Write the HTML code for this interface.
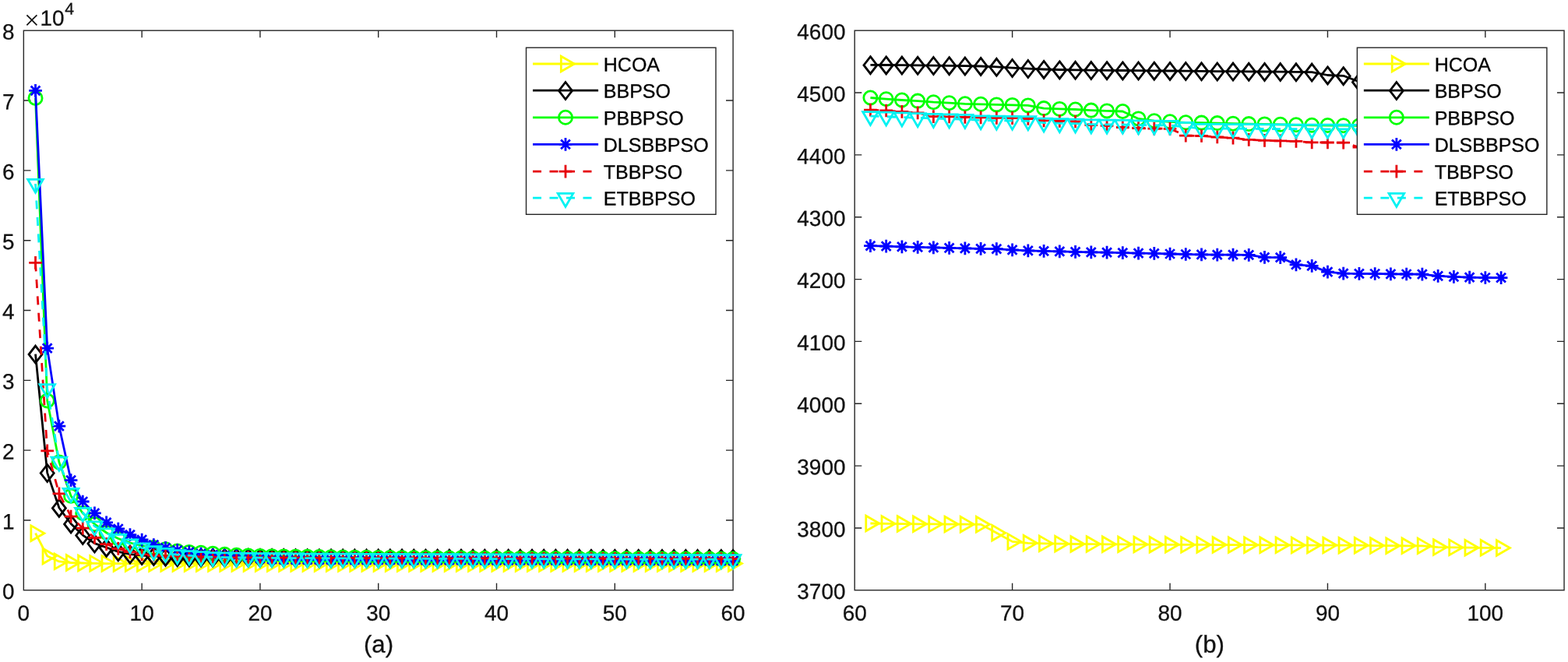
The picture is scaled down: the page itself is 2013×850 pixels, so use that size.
<!DOCTYPE html>
<html lang="en">
<head>
<meta charset="utf-8">
<title>Convergence curves of HCOA, BBPSO, PBBPSO, DLSBBPSO, TBBPSO and ETBBPSO</title>
<style>
html,body{margin:0;padding:0;background:#fff;}
body{width:2013px;height:850px;overflow:hidden;}
svg{display:block;}
text{font-family:'Liberation Sans', sans-serif;fill:#111111;stroke:#111111;stroke-width:0.3px;stroke-linejoin:round;}
.tk{font-size:27.9px;}
.tm{font-size:35px;font-family:'Liberation Serif', serif;stroke:none;}
.sup{font-size:21.4px;}
.lg{font-size:25.0px;fill:#000;stroke:#000;}
.lab{font-size:31.2px;}
.ax{fill:none;stroke:#262626;stroke-width:1.39;stroke-linecap:square;}
.tick{stroke-linecap:butt;}
rect.ax[fill]{fill:#fff;}
.s{fill:none;}
.ln{stroke-width:2.78;stroke-linejoin:round;stroke-linecap:butt;}
.mk{stroke-width:2.78;stroke-linejoin:miter;stroke-miterlimit:10;stroke-linecap:butt;}
</style>
</head>
<body>
<svg width="2013" height="850" viewBox="0 0 2013 850">
<defs>
<clipPath id="ca"><rect x="10.35" y="39.2" width="950.75" height="718.6"/></clipPath>
<clipPath id="cb"><rect x="1097.2" y="39.2" width="910.85" height="718.6"/></clipPath>
</defs>
<rect width="2013" height="850" fill="#fff"/>

<g id="panel-a">
<path class="ax tick" d="M182.14 757.8v-9.1M182.14 39.2v9.1M333.93 757.8v-9.1M333.93 39.2v9.1M485.73 757.8v-9.1M485.73 39.2v9.1M637.52 757.8v-9.1M637.52 39.2v9.1M789.31 757.8v-9.1M789.31 39.2v9.1M30.35 667.97h9.1M941.1 667.97h-9.1M30.35 578.15h9.1M941.1 578.15h-9.1M30.35 488.32h9.1M941.1 488.32h-9.1M30.35 398.5h9.1M941.1 398.5h-9.1M30.35 308.68h9.1M941.1 308.68h-9.1M30.35 218.85h9.1M941.1 218.85h-9.1M30.35 129.03h9.1M941.1 129.03h-9.1"/>
<rect class="ax" x="30.35" y="39.2" width="910.75" height="718.6"/>
<g class="xt">
<text class="tk" text-anchor="middle" transform="translate(30.35 796.7) rotate(0.05)">0</text>
<text class="tk" text-anchor="middle" transform="translate(182.14 796.7) rotate(0.05)">10</text>
<text class="tk" text-anchor="middle" transform="translate(333.93 796.7) rotate(0.05)">20</text>
<text class="tk" text-anchor="middle" transform="translate(485.73 796.7) rotate(0.05)">30</text>
<text class="tk" text-anchor="middle" transform="translate(637.52 796.7) rotate(0.05)">40</text>
<text class="tk" text-anchor="middle" transform="translate(789.31 796.7) rotate(0.05)">50</text>
<text class="tk" text-anchor="middle" transform="translate(941.1 796.7) rotate(0.05)">60</text>
</g>
<g class="yt">
<text class="tk" text-anchor="end" transform="translate(18.55 769.1) rotate(0.05)">0</text>
<text class="tk" text-anchor="end" transform="translate(18.55 679.27) rotate(0.05)">1</text>
<text class="tk" text-anchor="end" transform="translate(18.55 589.45) rotate(0.05)">2</text>
<text class="tk" text-anchor="end" transform="translate(18.55 499.62) rotate(0.05)">3</text>
<text class="tk" text-anchor="end" transform="translate(18.55 409.8) rotate(0.05)">4</text>
<text class="tk" text-anchor="end" transform="translate(18.55 319.98) rotate(0.05)">5</text>
<text class="tk" text-anchor="end" transform="translate(18.55 230.15) rotate(0.05)">6</text>
<text class="tk" text-anchor="end" transform="translate(18.55 140.33) rotate(0.05)">7</text>
<text class="tk" text-anchor="end" transform="translate(18.55 50.5) rotate(0.05)">8</text>
</g>
<text class="lab" text-anchor="middle" transform="translate(486.03 837.7) rotate(0.05)">(a)</text>
<text class="tk" transform="translate(31.1 32.7) rotate(0.05)"><tspan class="tm" dy="4.7">×</tspan><tspan dx="0.6" dy="-4.7">10</tspan><tspan class="sup" dx="0.7" dy="-14.3">4</tspan></text>
<g clip-path="url(#ca)">
<g stroke="#ffff00" class="s">
<polyline class="ln" points="45.53,684.7 60.71,714 75.89,720.9 91.07,722.5 106.25,723 121.43,723.4 136.6,723.6 151.78,723.6 166.96,723.6 182.14,723.6 197.32,723.6 212.5,723.6 227.68,723.6 242.86,723.6 258.04,723.6 273.22,723.6 288.4,723.6 303.58,723.6 318.75,723.6 333.93,723.6 349.11,723.6 364.29,723.6 379.47,723.6 394.65,723.6 409.83,723.6 425.01,723.6 440.19,723.6 455.37,723.6 470.55,723.6 485.73,723.6 500.9,723.6 516.08,723.6 531.26,723.6 546.44,723.6 561.62,723.6 576.8,723.6 591.98,723.6 607.16,723.6 622.34,723.6 637.52,723.6 652.7,723.6 667.88,723.6 683.05,723.6 698.23,723.6 713.41,723.6 728.59,723.6 743.77,723.6 758.95,723.6 774.13,723.6 789.31,723.6 804.49,723.6 819.67,723.6 834.85,723.6 850.03,723.6 865.2,723.6 880.38,723.6 895.56,723.6 910.74,723.6 925.92,723.6 941.1,723.6"/>
<g class="mk"><path d="M39.86 674.89L56.86 684.7L39.86 694.51Z"/><path d="M55.04 704.19L72.04 714L55.04 723.81Z"/><path d="M70.22 711.09L87.22 720.9L70.22 730.71Z"/><path d="M85.4 712.69L102.4 722.5L85.4 732.31Z"/><path d="M100.58 713.19L117.58 723L100.58 732.81Z"/><path d="M115.76 713.59L132.76 723.4L115.76 733.21Z"/><path d="M130.94 713.79L147.94 723.6L130.94 733.41Z"/><path d="M146.12 713.79L163.12 723.6L146.12 733.41Z"/><path d="M161.3 713.79L178.3 723.6L161.3 733.41Z"/><path d="M176.48 713.79L193.48 723.6L176.48 733.41Z"/><path d="M191.65 713.79L208.65 723.6L191.65 733.41Z"/><path d="M206.83 713.79L223.83 723.6L206.83 733.41Z"/><path d="M222.01 713.79L239.01 723.6L222.01 733.41Z"/><path d="M237.19 713.79L254.19 723.6L237.19 733.41Z"/><path d="M252.37 713.79L269.37 723.6L252.37 733.41Z"/><path d="M267.55 713.79L284.55 723.6L267.55 733.41Z"/><path d="M282.73 713.79L299.73 723.6L282.73 733.41Z"/><path d="M297.91 713.79L314.91 723.6L297.91 733.41Z"/><path d="M313.09 713.79L330.09 723.6L313.09 733.41Z"/><path d="M328.27 713.79L345.27 723.6L328.27 733.41Z"/><path d="M343.45 713.79L360.45 723.6L343.45 733.41Z"/><path d="M358.62 713.79L375.62 723.6L358.62 733.41Z"/><path d="M373.8 713.79L390.8 723.6L373.8 733.41Z"/><path d="M388.98 713.79L405.98 723.6L388.98 733.41Z"/><path d="M404.16 713.79L421.16 723.6L404.16 733.41Z"/><path d="M419.34 713.79L436.34 723.6L419.34 733.41Z"/><path d="M434.52 713.79L451.52 723.6L434.52 733.41Z"/><path d="M449.7 713.79L466.7 723.6L449.7 733.41Z"/><path d="M464.88 713.79L481.88 723.6L464.88 733.41Z"/><path d="M480.06 713.79L497.06 723.6L480.06 733.41Z"/><path d="M495.24 713.79L512.24 723.6L495.24 733.41Z"/><path d="M510.42 713.79L527.42 723.6L510.42 733.41Z"/><path d="M525.6 713.79L542.6 723.6L525.6 733.41Z"/><path d="M540.78 713.79L557.78 723.6L540.78 733.41Z"/><path d="M555.95 713.79L572.95 723.6L555.95 733.41Z"/><path d="M571.13 713.79L588.13 723.6L571.13 733.41Z"/><path d="M586.31 713.79L603.31 723.6L586.31 733.41Z"/><path d="M601.49 713.79L618.49 723.6L601.49 733.41Z"/><path d="M616.67 713.79L633.67 723.6L616.67 733.41Z"/><path d="M631.85 713.79L648.85 723.6L631.85 733.41Z"/><path d="M647.03 713.79L664.03 723.6L647.03 733.41Z"/><path d="M662.21 713.79L679.21 723.6L662.21 733.41Z"/><path d="M677.39 713.79L694.39 723.6L677.39 733.41Z"/><path d="M692.57 713.79L709.57 723.6L692.57 733.41Z"/><path d="M707.75 713.79L724.75 723.6L707.75 733.41Z"/><path d="M722.93 713.79L739.93 723.6L722.93 733.41Z"/><path d="M738.1 713.79L755.1 723.6L738.1 733.41Z"/><path d="M753.28 713.79L770.28 723.6L753.28 733.41Z"/><path d="M768.46 713.79L785.46 723.6L768.46 733.41Z"/><path d="M783.64 713.79L800.64 723.6L783.64 733.41Z"/><path d="M798.82 713.79L815.82 723.6L798.82 733.41Z"/><path d="M814 713.79L831 723.6L814 733.41Z"/><path d="M829.18 713.79L846.18 723.6L829.18 733.41Z"/><path d="M844.36 713.79L861.36 723.6L844.36 733.41Z"/><path d="M859.54 713.79L876.54 723.6L859.54 733.41Z"/><path d="M874.72 713.79L891.72 723.6L874.72 733.41Z"/><path d="M889.9 713.79L906.9 723.6L889.9 733.41Z"/><path d="M905.08 713.79L922.08 723.6L905.08 733.41Z"/><path d="M920.25 713.79L937.25 723.6L920.25 733.41Z"/><path d="M935.43 713.79L952.43 723.6L935.43 733.41Z"/></g>
</g>
<g stroke="#000000" class="s">
<polyline class="ln" points="45.53,454.7 60.71,607.1 75.89,652 91.07,672.5 106.25,687.1 121.43,697.6 136.6,703 151.78,708.4 166.96,711.6 182.14,713.2 197.32,714 212.5,714.8 227.68,715.3 242.86,715.5 258.04,715.7 273.22,715.8 288.4,715.85 303.58,715.9 318.75,715.95 333.93,716 349.11,716.1 364.29,716.2 379.47,716.3 394.65,716.4 409.83,716.5 425.01,716.54 440.19,716.58 455.37,716.62 470.55,716.66 485.73,716.7 500.9,716.72 516.08,716.73 531.26,716.75 546.44,716.77 561.62,716.78 576.8,716.8 591.98,716.82 607.16,716.83 622.34,716.85 637.52,716.87 652.7,716.88 667.88,716.9 683.05,716.92 698.23,716.93 713.41,716.95 728.59,716.97 743.77,716.98 758.95,717 774.13,717.02 789.31,717.03 804.49,717.05 819.67,717.07 834.85,717.08 850.03,717.1 865.2,717.12 880.38,717.13 895.56,717.15 910.74,717.17 925.92,717.18 941.1,717.2"/>
<g class="mk"><path d="M45.53 444.1L54.03 455.1L45.53 466.1L37.03 455.1Z"/><path d="M60.71 596.5L69.21 607.5L60.71 618.5L52.21 607.5Z"/><path d="M75.89 641.4L84.39 652.4L75.89 663.4L67.39 652.4Z"/><path d="M91.07 661.9L99.57 672.9L91.07 683.9L82.57 672.9Z"/><path d="M106.25 676.5L114.75 687.5L106.25 698.5L97.75 687.5Z"/><path d="M121.43 687L129.93 698L121.43 709L112.93 698Z"/><path d="M136.6 692.4L145.1 703.4L136.6 714.4L128.1 703.4Z"/><path d="M151.78 697.8L160.28 708.8L151.78 719.8L143.28 708.8Z"/><path d="M166.96 701L175.46 712L166.96 723L158.46 712Z"/><path d="M182.14 702.6L190.64 713.6L182.14 724.6L173.64 713.6Z"/><path d="M197.32 703.4L205.82 714.4L197.32 725.4L188.82 714.4Z"/><path d="M212.5 704.2L221 715.2L212.5 726.2L204 715.2Z"/><path d="M227.68 704.7L236.18 715.7L227.68 726.7L219.18 715.7Z"/><path d="M242.86 704.9L251.36 715.9L242.86 726.9L234.36 715.9Z"/><path d="M258.04 705.1L266.54 716.1L258.04 727.1L249.54 716.1Z"/><path d="M273.22 705.2L281.72 716.2L273.22 727.2L264.72 716.2Z"/><path d="M288.4 705.25L296.9 716.25L288.4 727.25L279.9 716.25Z"/><path d="M303.58 705.3L312.08 716.3L303.58 727.3L295.08 716.3Z"/><path d="M318.75 705.35L327.25 716.35L318.75 727.35L310.25 716.35Z"/><path d="M333.93 705.4L342.43 716.4L333.93 727.4L325.43 716.4Z"/><path d="M349.11 705.5L357.61 716.5L349.11 727.5L340.61 716.5Z"/><path d="M364.29 705.6L372.79 716.6L364.29 727.6L355.79 716.6Z"/><path d="M379.47 705.7L387.97 716.7L379.47 727.7L370.97 716.7Z"/><path d="M394.65 705.8L403.15 716.8L394.65 727.8L386.15 716.8Z"/><path d="M409.83 705.9L418.33 716.9L409.83 727.9L401.33 716.9Z"/><path d="M425.01 705.94L433.51 716.94L425.01 727.94L416.51 716.94Z"/><path d="M440.19 705.98L448.69 716.98L440.19 727.98L431.69 716.98Z"/><path d="M455.37 706.02L463.87 717.02L455.37 728.02L446.87 717.02Z"/><path d="M470.55 706.06L479.05 717.06L470.55 728.06L462.05 717.06Z"/><path d="M485.73 706.1L494.23 717.1L485.73 728.1L477.23 717.1Z"/><path d="M500.9 706.12L509.4 717.12L500.9 728.12L492.4 717.12Z"/><path d="M516.08 706.13L524.58 717.13L516.08 728.13L507.58 717.13Z"/><path d="M531.26 706.15L539.76 717.15L531.26 728.15L522.76 717.15Z"/><path d="M546.44 706.17L554.94 717.17L546.44 728.17L537.94 717.17Z"/><path d="M561.62 706.18L570.12 717.18L561.62 728.18L553.12 717.18Z"/><path d="M576.8 706.2L585.3 717.2L576.8 728.2L568.3 717.2Z"/><path d="M591.98 706.22L600.48 717.22L591.98 728.22L583.48 717.22Z"/><path d="M607.16 706.23L615.66 717.23L607.16 728.23L598.66 717.23Z"/><path d="M622.34 706.25L630.84 717.25L622.34 728.25L613.84 717.25Z"/><path d="M637.52 706.27L646.02 717.27L637.52 728.27L629.02 717.27Z"/><path d="M652.7 706.28L661.2 717.28L652.7 728.28L644.2 717.28Z"/><path d="M667.88 706.3L676.38 717.3L667.88 728.3L659.38 717.3Z"/><path d="M683.05 706.32L691.55 717.32L683.05 728.32L674.55 717.32Z"/><path d="M698.23 706.33L706.73 717.33L698.23 728.33L689.73 717.33Z"/><path d="M713.41 706.35L721.91 717.35L713.41 728.35L704.91 717.35Z"/><path d="M728.59 706.37L737.09 717.37L728.59 728.37L720.09 717.37Z"/><path d="M743.77 706.38L752.27 717.38L743.77 728.38L735.27 717.38Z"/><path d="M758.95 706.4L767.45 717.4L758.95 728.4L750.45 717.4Z"/><path d="M774.13 706.42L782.63 717.42L774.13 728.42L765.63 717.42Z"/><path d="M789.31 706.43L797.81 717.43L789.31 728.43L780.81 717.43Z"/><path d="M804.49 706.45L812.99 717.45L804.49 728.45L795.99 717.45Z"/><path d="M819.67 706.47L828.17 717.47L819.67 728.47L811.17 717.47Z"/><path d="M834.85 706.48L843.35 717.48L834.85 728.48L826.35 717.48Z"/><path d="M850.03 706.5L858.53 717.5L850.03 728.5L841.53 717.5Z"/><path d="M865.2 706.52L873.7 717.52L865.2 728.52L856.7 717.52Z"/><path d="M880.38 706.53L888.88 717.53L880.38 728.53L871.88 717.53Z"/><path d="M895.56 706.55L904.06 717.55L895.56 728.55L887.06 717.55Z"/><path d="M910.74 706.57L919.24 717.57L910.74 728.57L902.24 717.57Z"/><path d="M925.92 706.58L934.42 717.58L925.92 728.58L917.42 717.58Z"/><path d="M941.1 706.6L949.6 717.6L941.1 728.6L932.6 717.6Z"/></g>
</g>
<g stroke="#00ff00" class="s">
<polyline class="ln" points="45.53,126 60.71,514.5 75.89,593.4 91.07,636.8 106.25,659 121.43,673 136.6,684 151.78,691.5 166.96,697 182.14,700.5 197.32,703 212.5,705.2 227.68,707.5 242.86,708.9 258.04,709.8 273.22,710.7 288.4,711.8 303.58,712.8 318.75,713.4 333.93,713.9 349.11,714.14 364.29,714.38 379.47,714.62 394.65,714.86 409.83,715.1 425.01,715.28 440.19,715.46 455.37,715.64 470.55,715.82 485.73,716 500.9,716.08 516.08,716.16 531.26,716.24 546.44,716.32 561.62,716.4 576.8,716.48 591.98,716.56 607.16,716.64 622.34,716.72 637.52,716.8 652.7,716.84 667.88,716.89 683.05,716.93 698.23,716.98 713.41,717.02 728.59,717.07 743.77,717.12 758.95,717.16 774.13,717.21 789.31,717.25 804.49,717.29 819.67,717.34 834.85,717.38 850.03,717.43 865.2,717.48 880.38,717.52 895.56,717.57 910.74,717.61 925.92,717.66 941.1,717.7"/>
<g class="mk"><circle cx="45.53" cy="126" r="8.6"/><circle cx="60.71" cy="514.5" r="8.6"/><circle cx="75.89" cy="593.4" r="8.6"/><circle cx="91.07" cy="636.8" r="8.6"/><circle cx="106.25" cy="659" r="8.6"/><circle cx="121.43" cy="673" r="8.6"/><circle cx="136.6" cy="684" r="8.6"/><circle cx="151.78" cy="691.5" r="8.6"/><circle cx="166.96" cy="697" r="8.6"/><circle cx="182.14" cy="700.5" r="8.6"/><circle cx="197.32" cy="703" r="8.6"/><circle cx="212.5" cy="705.2" r="8.6"/><circle cx="227.68" cy="707.5" r="8.6"/><circle cx="242.86" cy="708.9" r="8.6"/><circle cx="258.04" cy="709.8" r="8.6"/><circle cx="273.22" cy="710.7" r="8.6"/><circle cx="288.4" cy="711.8" r="8.6"/><circle cx="303.58" cy="712.8" r="8.6"/><circle cx="318.75" cy="713.4" r="8.6"/><circle cx="333.93" cy="713.9" r="8.6"/><circle cx="349.11" cy="714.14" r="8.6"/><circle cx="364.29" cy="714.38" r="8.6"/><circle cx="379.47" cy="714.62" r="8.6"/><circle cx="394.65" cy="714.86" r="8.6"/><circle cx="409.83" cy="715.1" r="8.6"/><circle cx="425.01" cy="715.28" r="8.6"/><circle cx="440.19" cy="715.46" r="8.6"/><circle cx="455.37" cy="715.64" r="8.6"/><circle cx="470.55" cy="715.82" r="8.6"/><circle cx="485.73" cy="716" r="8.6"/><circle cx="500.9" cy="716.08" r="8.6"/><circle cx="516.08" cy="716.16" r="8.6"/><circle cx="531.26" cy="716.24" r="8.6"/><circle cx="546.44" cy="716.32" r="8.6"/><circle cx="561.62" cy="716.4" r="8.6"/><circle cx="576.8" cy="716.48" r="8.6"/><circle cx="591.98" cy="716.56" r="8.6"/><circle cx="607.16" cy="716.64" r="8.6"/><circle cx="622.34" cy="716.72" r="8.6"/><circle cx="637.52" cy="716.8" r="8.6"/><circle cx="652.7" cy="716.84" r="8.6"/><circle cx="667.88" cy="716.89" r="8.6"/><circle cx="683.05" cy="716.93" r="8.6"/><circle cx="698.23" cy="716.98" r="8.6"/><circle cx="713.41" cy="717.02" r="8.6"/><circle cx="728.59" cy="717.07" r="8.6"/><circle cx="743.77" cy="717.12" r="8.6"/><circle cx="758.95" cy="717.16" r="8.6"/><circle cx="774.13" cy="717.21" r="8.6"/><circle cx="789.31" cy="717.25" r="8.6"/><circle cx="804.49" cy="717.29" r="8.6"/><circle cx="819.67" cy="717.34" r="8.6"/><circle cx="834.85" cy="717.38" r="8.6"/><circle cx="850.03" cy="717.43" r="8.6"/><circle cx="865.2" cy="717.48" r="8.6"/><circle cx="880.38" cy="717.52" r="8.6"/><circle cx="895.56" cy="717.57" r="8.6"/><circle cx="910.74" cy="717.61" r="8.6"/><circle cx="925.92" cy="717.66" r="8.6"/><circle cx="941.1" cy="717.7" r="8.6"/></g>
</g>
<g stroke="#0000ff" class="s">
<polyline class="ln" points="45.53,116.3 60.71,447.2 75.89,547.1 91.07,616.6 106.25,644 121.43,658.9 136.6,670.9 151.78,679 166.96,686.6 182.14,693 197.32,699.5 212.5,703.4 227.68,706.5 242.86,708.9 258.04,711.2 273.22,712.6 288.4,713.4 303.58,714.2 318.75,715.5 333.93,717 349.11,718 364.29,718.5 379.47,718.55 394.65,718.6 409.83,718.65 425.01,718.7 440.19,718.75 455.37,718.8 470.55,718.85 485.73,718.9 500.9,718.94 516.08,718.97 531.26,719.01 546.44,719.05 561.62,719.08 576.8,719.12 591.98,719.16 607.16,719.19 622.34,719.23 637.52,719.27 652.7,719.3 667.88,719.34 683.05,719.38 698.23,719.41 713.41,719.45 728.59,719.49 743.77,719.52 758.95,719.56 774.13,719.6 789.31,719.63 804.49,719.67 819.67,719.71 834.85,719.74 850.03,719.78 865.2,719.82 880.38,719.85 895.56,719.89 910.74,719.93 925.92,719.96 941.1,720"/>
<g class="mk"><path d="M37.19 116.3H53.86M45.53 107.97V124.63M39.64 110.41L51.42 122.19M39.64 122.19L51.42 110.41"/><path d="M52.37 447.2H69.04M60.71 438.87V455.53M54.81 441.31L66.6 453.09M54.81 453.09L66.6 441.31"/><path d="M67.55 547.1H84.22M75.89 538.76V555.44M69.99 541.21L81.78 552.99M69.99 552.99L81.78 541.21"/><path d="M82.73 616.6H99.4M91.07 608.26V624.94M85.17 610.71L96.96 622.49M85.17 622.49L96.96 610.71"/><path d="M97.91 644H114.58M106.25 635.66V652.34M100.35 638.11L112.14 649.89M100.35 649.89L112.14 638.11"/><path d="M113.09 658.9H129.76M121.43 650.56V667.24M115.53 653.01L127.32 664.79M115.53 664.79L127.32 653.01"/><path d="M128.27 670.9H144.94M136.6 662.56V679.24M130.71 665.01L142.5 676.79M130.71 676.79L142.5 665.01"/><path d="M143.45 679H160.12M151.78 670.66V687.34M145.89 673.11L157.68 684.89M145.89 684.89L157.68 673.11"/><path d="M158.63 686.6H175.3M166.96 678.26V694.94M161.07 680.71L172.86 692.49M161.07 692.49L172.86 680.71"/><path d="M173.81 693H190.48M182.14 684.66V701.34M176.25 687.11L188.04 698.89M176.25 698.89L188.04 687.11"/><path d="M188.99 699.5H205.66M197.32 691.16V707.84M191.43 693.61L203.21 705.39M191.43 705.39L203.21 693.61"/><path d="M204.16 703.4H220.84M212.5 695.06V711.74M206.61 697.51L218.39 709.29M206.61 709.29L218.39 697.51"/><path d="M219.34 706.5H236.01M227.68 698.16V714.84M221.79 700.61L233.57 712.39M221.79 712.39L233.57 700.61"/><path d="M234.52 708.9H251.19M242.86 700.56V717.24M236.96 703.01L248.75 714.79M236.96 714.79L248.75 703.01"/><path d="M249.7 711.2H266.37M258.04 702.87V719.54M252.14 705.31L263.93 717.09M252.14 717.09L263.93 705.31"/><path d="M264.88 712.6H281.55M273.22 704.26V720.94M267.32 706.71L279.11 718.49M267.32 718.49L279.11 706.71"/><path d="M280.06 713.4H296.73M288.4 705.06V721.74M282.5 707.51L294.29 719.29M282.5 719.29L294.29 707.51"/><path d="M295.24 714.2H311.91M303.58 705.87V722.54M297.68 708.31L309.47 720.09M297.68 720.09L309.47 708.31"/><path d="M310.42 715.5H327.09M318.75 707.16V723.84M312.86 709.61L324.65 721.39M312.86 721.39L324.65 709.61"/><path d="M325.6 717H342.27M333.93 708.66V725.34M328.04 711.11L339.83 722.89M328.04 722.89L339.83 711.11"/><path d="M340.78 718H357.45M349.11 709.66V726.34M343.22 712.11L355.01 723.89M343.22 723.89L355.01 712.11"/><path d="M355.96 718.5H372.63M364.29 710.16V726.84M358.4 712.61L370.19 724.39M358.4 724.39L370.19 712.61"/><path d="M371.14 718.55H387.81M379.47 710.21V726.88M373.58 712.66L385.36 724.44M373.58 724.44L385.36 712.66"/><path d="M386.32 718.6H402.99M394.65 710.26V726.94M388.76 712.71L400.54 724.49M388.76 724.49L400.54 712.71"/><path d="M401.49 718.65H418.16M409.83 710.31V726.99M403.94 712.76L415.72 724.54M403.94 724.54L415.72 712.76"/><path d="M416.67 718.7H433.34M425.01 710.37V727.04M419.11 712.81L430.9 724.59M419.11 724.59L430.9 712.81"/><path d="M431.85 718.75H448.52M440.19 710.41V727.09M434.29 712.86L446.08 724.64M434.29 724.64L446.08 712.86"/><path d="M447.03 718.8H463.7M455.37 710.46V727.13M449.47 712.91L461.26 724.69M449.47 724.69L461.26 712.91"/><path d="M462.21 718.85H478.88M470.55 710.51V727.19M464.65 712.96L476.44 724.74M464.65 724.74L476.44 712.96"/><path d="M477.39 718.9H494.06M485.73 710.56V727.24M479.83 713.01L491.62 724.79M479.83 724.79L491.62 713.01"/><path d="M492.57 718.94H509.24M500.9 710.6V727.27M495.01 713.04L506.8 724.83M495.01 724.83L506.8 713.04"/><path d="M507.75 718.97H524.42M516.08 710.64V727.31M510.19 713.08L521.98 724.87M510.19 724.87L521.98 713.08"/><path d="M522.93 719.01H539.6M531.26 710.67V727.35M525.37 713.12L537.16 724.9M525.37 724.9L537.16 713.12"/><path d="M538.11 719.05H554.78M546.44 710.71V727.38M540.55 713.15L552.34 724.94M540.55 724.94L552.34 713.15"/><path d="M553.29 719.08H569.96M561.62 710.75V727.42M555.73 713.19L567.51 724.98M555.73 724.98L567.51 713.19"/><path d="M568.47 719.12H585.14M576.8 710.78V727.46M570.91 713.23L582.69 725.01M570.91 725.01L582.69 713.23"/><path d="M583.64 719.16H600.31M591.98 710.82V727.49M586.09 713.26L597.87 725.05M586.09 725.05L597.87 713.26"/><path d="M598.82 719.19H615.49M607.16 710.86V727.53M601.26 713.3L613.05 725.09M601.26 725.09L613.05 713.3"/><path d="M614 719.23H630.67M622.34 710.89V727.57M616.44 713.34L628.23 725.12M616.44 725.12L628.23 713.34"/><path d="M629.18 719.27H645.85M637.52 710.93V727.6M631.62 713.37L643.41 725.16M631.62 725.16L643.41 713.37"/><path d="M644.36 719.3H661.03M652.7 710.97V727.64M646.8 713.41L658.59 725.2M646.8 725.2L658.59 713.41"/><path d="M659.54 719.34H676.21M667.88 711V727.68M661.98 713.45L673.77 725.23M661.98 725.23L673.77 713.45"/><path d="M674.72 719.38H691.39M683.05 711.04V727.71M677.16 713.48L688.95 725.27M677.16 725.27L688.95 713.48"/><path d="M689.9 719.41H706.57M698.23 711.08V727.75M692.34 713.52L704.13 725.31M692.34 725.31L704.13 713.52"/><path d="M705.08 719.45H721.75M713.41 711.12V727.79M707.52 713.56L719.31 725.34M707.52 725.34L719.31 713.56"/><path d="M720.26 719.49H736.93M728.59 711.15V727.82M722.7 713.59L734.49 725.38M722.7 725.38L734.49 713.59"/><path d="M735.44 719.52H752.11M743.77 711.19V727.86M737.88 713.63L749.66 725.42M737.88 725.42L749.66 713.63"/><path d="M750.62 719.56H767.29M758.95 711.22V727.89M753.06 713.67L764.84 725.45M753.06 725.45L764.84 713.67"/><path d="M765.79 719.6H782.46M774.13 711.26V727.93M768.24 713.7L780.02 725.49M768.24 725.49L780.02 713.7"/><path d="M780.97 719.63H797.64M789.31 711.3V727.97M783.41 713.74L795.2 725.53M783.41 725.53L795.2 713.74"/><path d="M796.15 719.67H812.82M804.49 711.33V728M798.59 713.78L810.38 725.56M798.59 725.56L810.38 713.78"/><path d="M811.33 719.71H828M819.67 711.37V728.04M813.77 713.81L825.56 725.6M813.77 725.6L825.56 713.81"/><path d="M826.51 719.74H843.18M834.85 711.41V728.08M828.95 713.85L840.74 725.64M828.95 725.64L840.74 713.85"/><path d="M841.69 719.78H858.36M850.03 711.44V728.12M844.13 713.89L855.92 725.67M844.13 725.67L855.92 713.89"/><path d="M856.87 719.82H873.54M865.2 711.48V728.15M859.31 713.92L871.1 725.71M859.31 725.71L871.1 713.92"/><path d="M872.05 719.85H888.72M880.38 711.52V728.19M874.49 713.96L886.28 725.75M874.49 725.75L886.28 713.96"/><path d="M887.23 719.89H903.9M895.56 711.55V728.23M889.67 714L901.46 725.78M889.67 725.78L901.46 714"/><path d="M902.41 719.93H919.08M910.74 711.59V728.26M904.85 714.03L916.64 725.82M904.85 725.82L916.64 714.03"/><path d="M917.59 719.96H934.26M925.92 711.63V728.3M920.03 714.07L931.81 725.86M920.03 725.86L931.81 714.07"/><path d="M932.76 720H949.44M941.1 711.66V728.34M935.21 714.11L946.99 725.89M935.21 725.89L946.99 714.11"/></g>
</g>
<g stroke="#e6000a" class="s">
<polyline class="ln" points="45.53,337.4 60.71,578.8 75.89,633.8 91.07,663.1 106.25,678.2 121.43,690.3 136.6,698.7 151.78,704.5 166.96,708.6 182.14,711.9 197.32,713 212.5,713.8 227.68,714 242.86,714.6 258.04,715 273.22,715.2 288.4,715.6 303.58,715.8 318.75,715.8 333.93,716.1 349.11,716.14 364.29,716.18 379.47,716.22 394.65,716.26 409.83,716.3 425.01,716.36 440.19,716.42 455.37,716.48 470.55,716.54 485.73,716.6 500.9,716.63 516.08,716.67 531.26,716.7 546.44,716.73 561.62,716.77 576.8,716.8 591.98,716.83 607.16,716.87 622.34,716.9 637.52,716.93 652.7,716.97 667.88,717 683.05,717.03 698.23,717.07 713.41,717.1 728.59,717.13 743.77,717.17 758.95,717.2 774.13,717.23 789.31,717.27 804.49,717.3 819.67,717.33 834.85,717.37 850.03,717.4 865.2,717.43 880.38,717.47 895.56,717.5 910.74,717.53 925.92,717.57 941.1,717.6" stroke-dasharray="11 10.5"/>
<g class="mk"><path d="M37.19 337.4H53.86M45.53 329.06V345.73"/><path d="M52.37 578.8H69.04M60.71 570.46V587.13"/><path d="M67.55 633.8H84.22M75.89 625.46V642.13"/><path d="M82.73 663.1H99.4M91.07 654.76V671.44"/><path d="M97.91 678.2H114.58M106.25 669.87V686.54"/><path d="M113.09 690.3H129.76M121.43 681.96V698.63"/><path d="M128.27 698.7H144.94M136.6 690.37V707.04"/><path d="M143.45 704.5H160.12M151.78 696.16V712.84"/><path d="M158.63 708.6H175.3M166.96 700.26V716.94"/><path d="M173.81 711.9H190.48M182.14 703.56V720.24"/><path d="M188.99 713H205.66M197.32 704.66V721.34"/><path d="M204.16 713.8H220.84M212.5 705.46V722.13"/><path d="M219.34 714H236.01M227.68 705.66V722.34"/><path d="M234.52 714.6H251.19M242.86 706.26V722.94"/><path d="M249.7 715H266.37M258.04 706.66V723.34"/><path d="M264.88 715.2H281.55M273.22 706.87V723.54"/><path d="M280.06 715.6H296.73M288.4 707.26V723.94"/><path d="M295.24 715.8H311.91M303.58 707.46V724.13"/><path d="M310.42 715.8H327.09M318.75 707.46V724.13"/><path d="M325.6 716.1H342.27M333.93 707.76V724.44"/><path d="M340.78 716.14H357.45M349.11 707.8V724.48"/><path d="M355.96 716.18H372.63M364.29 707.84V724.51"/><path d="M371.14 716.22H387.81M379.47 707.88V724.56"/><path d="M386.32 716.26H402.99M394.65 707.92V724.6"/><path d="M401.49 716.3H418.16M409.83 707.96V724.63"/><path d="M416.67 716.36H433.34M425.01 708.02V724.7"/><path d="M431.85 716.42H448.52M440.19 708.08V724.75"/><path d="M447.03 716.48H463.7M455.37 708.14V724.82"/><path d="M462.21 716.54H478.88M470.55 708.2V724.88"/><path d="M477.39 716.6H494.06M485.73 708.26V724.94"/><path d="M492.57 716.63H509.24M500.9 708.3V724.97"/><path d="M507.75 716.67H524.42M516.08 708.33V725"/><path d="M522.93 716.7H539.6M531.26 708.37V725.04"/><path d="M538.11 716.73H554.78M546.44 708.4V725.07"/><path d="M553.29 716.77H569.96M561.62 708.43V725.1"/><path d="M568.47 716.8H585.14M576.8 708.47V725.14"/><path d="M583.64 716.83H600.31M591.98 708.5V725.17"/><path d="M598.82 716.87H615.49M607.16 708.53V725.2"/><path d="M614 716.9H630.67M622.34 708.56V725.24"/><path d="M629.18 716.93H645.85M637.52 708.6V725.27"/><path d="M644.36 716.97H661.03M652.7 708.63V725.3"/><path d="M659.54 717H676.21M667.88 708.66V725.34"/><path d="M674.72 717.03H691.39M683.05 708.7V725.37"/><path d="M689.9 717.07H706.57M698.23 708.73V725.4"/><path d="M705.08 717.1H721.75M713.41 708.76V725.44"/><path d="M720.26 717.13H736.93M728.59 708.8V725.47"/><path d="M735.44 717.17H752.11M743.77 708.83V725.5"/><path d="M750.62 717.2H767.29M758.95 708.87V725.54"/><path d="M765.79 717.23H782.46M774.13 708.9V725.57"/><path d="M780.97 717.27H797.64M789.31 708.93V725.6"/><path d="M796.15 717.3H812.82M804.49 708.97V725.64"/><path d="M811.33 717.33H828M819.67 709V725.67"/><path d="M826.51 717.37H843.18M834.85 709.03V725.7"/><path d="M841.69 717.4H858.36M850.03 709.06V725.74"/><path d="M856.87 717.43H873.54M865.2 709.1V725.77"/><path d="M872.05 717.47H888.72M880.38 709.13V725.8"/><path d="M887.23 717.5H903.9M895.56 709.16V725.84"/><path d="M902.41 717.53H919.08M910.74 709.2V725.87"/><path d="M917.59 717.57H934.26M925.92 709.23V725.9"/><path d="M932.76 717.6H949.44M941.1 709.26V725.94"/></g>
</g>
<g stroke="#00f2f2" class="s">
<polyline class="ln" points="45.53,236 60.71,499.2 75.89,592.9 91.07,633.1 106.25,658 121.43,675.6 136.6,684.5 151.78,692 166.96,698.5 182.14,703.5 197.32,707.3 212.5,710 227.68,712.3 242.86,713.3 258.04,714.4 273.22,715.3 288.4,715.6 303.58,715.9 318.75,716 333.93,716.2 349.11,716.4 364.29,716.6 379.47,716.65 394.65,716.7 409.83,716.75 425.01,716.8 440.19,716.85 455.37,716.9 470.55,716.96 485.73,717.02 500.9,717.08 516.08,717.13 531.26,717.19 546.44,717.25 561.62,717.31 576.8,717.37 591.98,717.42 607.16,717.48 622.34,717.54 637.52,717.6 652.7,717.63 667.88,717.67 683.05,717.71 698.23,717.74 713.41,717.77 728.59,717.81 743.77,717.85 758.95,717.88 774.13,717.91 789.31,717.95 804.49,717.99 819.67,718.02 834.85,718.05 850.03,718.09 865.2,718.12 880.38,718.16 895.56,718.19 910.74,718.23 925.92,718.26 941.1,718.3" stroke-dasharray="11 10.5"/>
<g class="mk"><path d="M35.71 230.33L55.34 230.33L45.53 247.33Z"/><path d="M50.89 493.53L70.52 493.53L60.71 510.53Z"/><path d="M66.07 587.23L85.7 587.23L75.89 604.23Z"/><path d="M81.25 627.43L100.88 627.43L91.07 644.43Z"/><path d="M96.43 652.33L116.06 652.33L106.25 669.33Z"/><path d="M111.61 669.93L131.24 669.93L121.43 686.93Z"/><path d="M126.79 678.83L146.42 678.83L136.6 695.83Z"/><path d="M141.97 686.33L161.6 686.33L151.78 703.33Z"/><path d="M157.15 692.83L176.78 692.83L166.96 709.83Z"/><path d="M172.33 697.83L191.96 697.83L182.14 714.83Z"/><path d="M187.51 701.63L207.14 701.63L197.32 718.63Z"/><path d="M202.69 704.33L222.31 704.33L212.5 721.33Z"/><path d="M217.86 706.63L237.49 706.63L227.68 723.63Z"/><path d="M233.04 707.63L252.67 707.63L242.86 724.63Z"/><path d="M248.22 708.73L267.85 708.73L258.04 725.73Z"/><path d="M263.4 709.63L283.03 709.63L273.22 726.63Z"/><path d="M278.58 709.93L298.21 709.93L288.4 726.93Z"/><path d="M293.76 710.23L313.39 710.23L303.58 727.23Z"/><path d="M308.94 710.33L328.57 710.33L318.75 727.33Z"/><path d="M324.12 710.53L343.75 710.53L333.93 727.53Z"/><path d="M339.3 710.73L358.93 710.73L349.11 727.73Z"/><path d="M354.48 710.93L374.11 710.93L364.29 727.93Z"/><path d="M369.66 710.98L389.29 710.98L379.47 727.98Z"/><path d="M384.84 711.03L404.46 711.03L394.65 728.03Z"/><path d="M400.01 711.08L419.64 711.08L409.83 728.08Z"/><path d="M415.19 711.13L434.82 711.13L425.01 728.13Z"/><path d="M430.37 711.18L450 711.18L440.19 728.18Z"/><path d="M445.55 711.23L465.18 711.23L455.37 728.23Z"/><path d="M460.73 711.29L480.36 711.29L470.55 728.29Z"/><path d="M475.91 711.35L495.54 711.35L485.73 728.35Z"/><path d="M491.09 711.41L510.72 711.41L500.9 728.41Z"/><path d="M506.27 711.47L525.9 711.47L516.08 728.47Z"/><path d="M521.45 711.52L541.08 711.52L531.26 728.52Z"/><path d="M536.63 711.58L556.26 711.58L546.44 728.58Z"/><path d="M551.81 711.64L571.44 711.64L561.62 728.64Z"/><path d="M566.99 711.7L586.61 711.7L576.8 728.7Z"/><path d="M582.16 711.76L601.79 711.76L591.98 728.76Z"/><path d="M597.34 711.82L616.97 711.82L607.16 728.82Z"/><path d="M612.52 711.88L632.15 711.88L622.34 728.88Z"/><path d="M627.7 711.93L647.33 711.93L637.52 728.93Z"/><path d="M642.88 711.97L662.51 711.97L652.7 728.97Z"/><path d="M658.06 712L677.69 712L667.88 729Z"/><path d="M673.24 712.04L692.87 712.04L683.05 729.04Z"/><path d="M688.42 712.07L708.05 712.07L698.23 729.07Z"/><path d="M703.6 712.11L723.23 712.11L713.41 729.11Z"/><path d="M718.78 712.14L738.41 712.14L728.59 729.14Z"/><path d="M733.96 712.18L753.59 712.18L743.77 729.18Z"/><path d="M749.14 712.21L768.76 712.21L758.95 729.21Z"/><path d="M764.31 712.25L783.94 712.25L774.13 729.25Z"/><path d="M779.49 712.28L799.12 712.28L789.31 729.28Z"/><path d="M794.67 712.32L814.3 712.32L804.49 729.32Z"/><path d="M809.85 712.35L829.48 712.35L819.67 729.35Z"/><path d="M825.03 712.39L844.66 712.39L834.85 729.39Z"/><path d="M840.21 712.42L859.84 712.42L850.03 729.42Z"/><path d="M855.39 712.46L875.02 712.46L865.2 729.46Z"/><path d="M870.57 712.49L890.2 712.49L880.38 729.49Z"/><path d="M885.75 712.53L905.38 712.53L895.56 729.53Z"/><path d="M900.93 712.56L920.56 712.56L910.74 729.56Z"/><path d="M916.11 712.6L935.74 712.6L925.92 729.6Z"/><path d="M931.29 712.63L950.91 712.63L941.1 729.63Z"/></g>
</g>
</g>
<g transform="translate(0 0)">
<rect class="ax" fill="#fff" x="675.5" y="61.2" width="243.5" height="214.1"/>
<g stroke="#ffff00" class="s"><path class="ln" style="stroke-linecap:butt" d="M684 82H768.1"/><g class="mk"><path d="M720.33 72.19L737.33 82L720.33 91.81Z"/></g></g>
<text class="lg" transform="translate(774.8 91.4) rotate(0.05)">HCOA</text>
<g stroke="#000000" class="s"><path class="ln" style="stroke-linecap:butt" d="M684 116.1H768.1"/><g class="mk"><path d="M726 105.5L734.5 116.5L726 127.5L717.5 116.5Z"/></g></g>
<text class="lg" transform="translate(774.8 125.5) rotate(0.05)">BBPSO</text>
<g stroke="#00ff00" class="s"><path class="ln" style="stroke-linecap:butt" d="M684 150.8H768.1"/><g class="mk"><circle cx="726" cy="150.8" r="8.6"/></g></g>
<text class="lg" transform="translate(774.8 160.2) rotate(0.05)">PBBPSO</text>
<g stroke="#0000ff" class="s"><path class="ln" style="stroke-linecap:butt" d="M684 185.3H768.1"/><g class="mk"><path d="M717.66 185.3H734.34M726 176.97V193.64M720.11 179.41L731.89 191.19M720.11 191.19L731.89 179.41"/></g></g>
<text class="lg" transform="translate(774.8 194.7) rotate(0.05)">DLSBBPSO</text>
<g stroke="#e6000a" class="s"><path class="ln" style="stroke-linecap:butt" d="M684 220.1H768.1" stroke-dasharray="11 10.5"/><g class="mk"><path d="M717.66 220.1H734.34M726 211.76V228.44"/></g></g>
<text class="lg" transform="translate(774.8 229.5) rotate(0.05)">TBBPSO</text>
<g stroke="#00f2f2" class="s"><path class="ln" style="stroke-linecap:butt" d="M684 254.1H768.1" stroke-dasharray="11 10.5"/><g class="mk"><path d="M716.19 248.43L735.81 248.43L726 265.43Z"/></g></g>
<text class="lg" transform="translate(774.8 263.5) rotate(0.05)">ETBBPSO</text>
</g>
</g>
<g id="panel-b">
<path class="ax tick" d="M1299.61 757.8v-9.1M1299.61 39.2v9.1M1502.02 757.8v-9.1M1502.02 39.2v9.1M1704.43 757.8v-9.1M1704.43 39.2v9.1M1906.84 757.8v-9.1M1906.84 39.2v9.1M1097.2 677.96h9.1M2008.05 677.96h-9.1M1097.2 598.11h9.1M2008.05 598.11h-9.1M1097.2 518.27h9.1M2008.05 518.27h-9.1M1097.2 438.42h9.1M2008.05 438.42h-9.1M1097.2 358.58h9.1M2008.05 358.58h-9.1M1097.2 278.73h9.1M2008.05 278.73h-9.1M1097.2 198.89h9.1M2008.05 198.89h-9.1M1097.2 119.04h9.1M2008.05 119.04h-9.1"/>
<rect class="ax" x="1097.2" y="39.2" width="910.85" height="718.6"/>
<g class="xt">
<text class="tk" text-anchor="middle" transform="translate(1097.2 796.7) rotate(0.05)">60</text>
<text class="tk" text-anchor="middle" transform="translate(1299.61 796.7) rotate(0.05)">70</text>
<text class="tk" text-anchor="middle" transform="translate(1502.02 796.7) rotate(0.05)">80</text>
<text class="tk" text-anchor="middle" transform="translate(1704.43 796.7) rotate(0.05)">90</text>
<text class="tk" text-anchor="middle" transform="translate(1906.84 796.7) rotate(0.05)">100</text>
</g>
<g class="yt">
<text class="tk" text-anchor="end" transform="translate(1085.4 769.1) rotate(0.05)">3700</text>
<text class="tk" text-anchor="end" transform="translate(1085.4 689.26) rotate(0.05)">3800</text>
<text class="tk" text-anchor="end" transform="translate(1085.4 609.41) rotate(0.05)">3900</text>
<text class="tk" text-anchor="end" transform="translate(1085.4 529.57) rotate(0.05)">4000</text>
<text class="tk" text-anchor="end" transform="translate(1085.4 449.72) rotate(0.05)">4100</text>
<text class="tk" text-anchor="end" transform="translate(1085.4 369.88) rotate(0.05)">4200</text>
<text class="tk" text-anchor="end" transform="translate(1085.4 290.03) rotate(0.05)">4300</text>
<text class="tk" text-anchor="end" transform="translate(1085.4 210.19) rotate(0.05)">4400</text>
<text class="tk" text-anchor="end" transform="translate(1085.4 130.34) rotate(0.05)">4500</text>
<text class="tk" text-anchor="end" transform="translate(1085.4 50.5) rotate(0.05)">4600</text>
</g>
<text class="lab" text-anchor="middle" transform="translate(1552.92 837.7) rotate(0.05)">(b)</text>
<g clip-path="url(#cb)">
<g stroke="#ffff00" class="s">
<polyline class="ln" points="1117.44,672 1137.68,672.4 1157.92,672.6 1178.16,672.8 1198.41,672.9 1218.65,673.1 1238.89,673.2 1259.13,673.3 1279.37,684.2 1299.61,695.4 1319.85,697.3 1340.09,697.9 1360.33,698.2 1380.58,698.5 1400.82,698.6 1421.06,698.8 1441.3,698.9 1461.54,699.1 1481.78,699.2 1502.02,699.3 1522.26,699.4 1542.5,699.48 1562.75,699.56 1582.99,699.64 1603.23,699.72 1623.47,699.8 1643.71,699.88 1663.95,699.96 1684.19,700.04 1704.43,700.12 1724.67,700.2 1744.92,700.2 1765.16,700.6 1785.4,700.7 1805.64,700.8 1825.88,700.9 1846.12,702.6 1866.36,702.9 1886.6,703.2 1906.84,703.3 1927.09,703.5"/>
<g class="mk"><path d="M1111.77 662.19L1128.77 672L1111.77 681.81Z"/><path d="M1132.02 662.59L1149.02 672.4L1132.02 682.21Z"/><path d="M1152.26 662.79L1169.26 672.6L1152.26 682.41Z"/><path d="M1172.5 662.99L1189.5 672.8L1172.5 682.61Z"/><path d="M1192.74 663.09L1209.74 672.9L1192.74 682.71Z"/><path d="M1212.98 663.29L1229.98 673.1L1212.98 682.91Z"/><path d="M1233.22 663.39L1250.22 673.2L1233.22 683.01Z"/><path d="M1253.46 663.49L1270.46 673.3L1253.46 683.11Z"/><path d="M1273.7 674.39L1290.7 684.2L1273.7 694.01Z"/><path d="M1293.94 685.59L1310.94 695.4L1293.94 705.21Z"/><path d="M1314.19 687.49L1331.19 697.3L1314.19 707.11Z"/><path d="M1334.43 688.09L1351.43 697.9L1334.43 707.71Z"/><path d="M1354.67 688.39L1371.67 698.2L1354.67 708.01Z"/><path d="M1374.91 688.69L1391.91 698.5L1374.91 708.31Z"/><path d="M1395.15 688.79L1412.15 698.6L1395.15 708.41Z"/><path d="M1415.39 688.99L1432.39 698.8L1415.39 708.61Z"/><path d="M1435.63 689.09L1452.63 698.9L1435.63 708.71Z"/><path d="M1455.87 689.29L1472.87 699.1L1455.87 708.91Z"/><path d="M1476.11 689.39L1493.11 699.2L1476.11 709.01Z"/><path d="M1496.36 689.49L1513.36 699.3L1496.36 709.11Z"/><path d="M1516.6 689.59L1533.6 699.4L1516.6 709.21Z"/><path d="M1536.84 689.67L1553.84 699.48L1536.84 709.29Z"/><path d="M1557.08 689.75L1574.08 699.56L1557.08 709.37Z"/><path d="M1577.32 689.83L1594.32 699.64L1577.32 709.45Z"/><path d="M1597.56 689.91L1614.56 699.72L1597.56 709.53Z"/><path d="M1617.8 689.99L1634.8 699.8L1617.8 709.61Z"/><path d="M1638.04 690.07L1655.04 699.88L1638.04 709.69Z"/><path d="M1658.28 690.15L1675.28 699.96L1658.28 709.77Z"/><path d="M1678.53 690.23L1695.53 700.04L1678.53 709.85Z"/><path d="M1698.77 690.31L1715.77 700.12L1698.77 709.93Z"/><path d="M1719.01 690.39L1736.01 700.2L1719.01 710.01Z"/><path d="M1739.25 690.39L1756.25 700.2L1739.25 710.01Z"/><path d="M1759.49 690.79L1776.49 700.6L1759.49 710.41Z"/><path d="M1779.73 690.89L1796.73 700.7L1779.73 710.51Z"/><path d="M1799.97 690.99L1816.97 700.8L1799.97 710.61Z"/><path d="M1820.21 691.09L1837.21 700.9L1820.21 710.71Z"/><path d="M1840.45 692.79L1857.45 702.6L1840.45 712.41Z"/><path d="M1860.7 693.09L1877.7 702.9L1860.7 712.71Z"/><path d="M1880.94 693.39L1897.94 703.2L1880.94 713.01Z"/><path d="M1901.18 693.49L1918.18 703.3L1901.18 713.11Z"/><path d="M1921.42 693.69L1938.42 703.5L1921.42 713.31Z"/></g>
</g>
<g stroke="#000000" class="s">
<polyline class="ln" points="1117.44,83.3 1137.68,83.5 1157.92,83.7 1178.16,83.9 1198.41,84.1 1218.65,84.3 1238.89,84.6 1259.13,85 1279.37,85.9 1299.61,87.1 1319.85,88.1 1340.09,89 1360.33,89.5 1380.58,89.9 1400.82,90.2 1421.06,90.3 1441.3,90.5 1461.54,90.6 1481.78,90.8 1502.02,91 1522.26,91.1 1542.5,91.4 1562.75,91.6 1582.99,91.7 1603.23,91.9 1623.47,92 1643.71,92.2 1663.95,92.4 1684.19,92.7 1704.43,96.5 1724.67,97.3 1744.92,105 1765.16,106 1785.4,106.25 1805.64,106.5 1825.88,106.75 1846.12,107 1866.36,107.25 1886.6,107.5 1906.84,107.75 1927.09,108"/>
<g class="mk"><path d="M1117.44 72.7L1125.94 83.7L1117.44 94.7L1108.94 83.7Z"/><path d="M1137.68 72.9L1146.18 83.9L1137.68 94.9L1129.18 83.9Z"/><path d="M1157.92 73.1L1166.42 84.1L1157.92 95.1L1149.42 84.1Z"/><path d="M1178.16 73.3L1186.66 84.3L1178.16 95.3L1169.66 84.3Z"/><path d="M1198.41 73.5L1206.91 84.5L1198.41 95.5L1189.91 84.5Z"/><path d="M1218.65 73.7L1227.15 84.7L1218.65 95.7L1210.15 84.7Z"/><path d="M1238.89 74L1247.39 85L1238.89 96L1230.39 85Z"/><path d="M1259.13 74.4L1267.63 85.4L1259.13 96.4L1250.63 85.4Z"/><path d="M1279.37 75.3L1287.87 86.3L1279.37 97.3L1270.87 86.3Z"/><path d="M1299.61 76.5L1308.11 87.5L1299.61 98.5L1291.11 87.5Z"/><path d="M1319.85 77.5L1328.35 88.5L1319.85 99.5L1311.35 88.5Z"/><path d="M1340.09 78.4L1348.59 89.4L1340.09 100.4L1331.59 89.4Z"/><path d="M1360.33 78.9L1368.83 89.9L1360.33 100.9L1351.83 89.9Z"/><path d="M1380.58 79.3L1389.08 90.3L1380.58 101.3L1372.08 90.3Z"/><path d="M1400.82 79.6L1409.32 90.6L1400.82 101.6L1392.32 90.6Z"/><path d="M1421.06 79.7L1429.56 90.7L1421.06 101.7L1412.56 90.7Z"/><path d="M1441.3 79.9L1449.8 90.9L1441.3 101.9L1432.8 90.9Z"/><path d="M1461.54 80L1470.04 91L1461.54 102L1453.04 91Z"/><path d="M1481.78 80.2L1490.28 91.2L1481.78 102.2L1473.28 91.2Z"/><path d="M1502.02 80.4L1510.52 91.4L1502.02 102.4L1493.52 91.4Z"/><path d="M1522.26 80.5L1530.76 91.5L1522.26 102.5L1513.76 91.5Z"/><path d="M1542.5 80.8L1551 91.8L1542.5 102.8L1534 91.8Z"/><path d="M1562.75 81L1571.25 92L1562.75 103L1554.25 92Z"/><path d="M1582.99 81.1L1591.49 92.1L1582.99 103.1L1574.49 92.1Z"/><path d="M1603.23 81.3L1611.73 92.3L1603.23 103.3L1594.73 92.3Z"/><path d="M1623.47 81.4L1631.97 92.4L1623.47 103.4L1614.97 92.4Z"/><path d="M1643.71 81.6L1652.21 92.6L1643.71 103.6L1635.21 92.6Z"/><path d="M1663.95 81.8L1672.45 92.8L1663.95 103.8L1655.45 92.8Z"/><path d="M1684.19 82.1L1692.69 93.1L1684.19 104.1L1675.69 93.1Z"/><path d="M1704.43 85.9L1712.93 96.9L1704.43 107.9L1695.93 96.9Z"/><path d="M1724.67 86.7L1733.17 97.7L1724.67 108.7L1716.17 97.7Z"/><path d="M1744.92 94.4L1753.42 105.4L1744.92 116.4L1736.42 105.4Z"/><path d="M1765.16 95.4L1773.66 106.4L1765.16 117.4L1756.66 106.4Z"/><path d="M1785.4 95.65L1793.9 106.65L1785.4 117.65L1776.9 106.65Z"/><path d="M1805.64 95.9L1814.14 106.9L1805.64 117.9L1797.14 106.9Z"/><path d="M1825.88 96.15L1834.38 107.15L1825.88 118.15L1817.38 107.15Z"/><path d="M1846.12 96.4L1854.62 107.4L1846.12 118.4L1837.62 107.4Z"/><path d="M1866.36 96.65L1874.86 107.65L1866.36 118.65L1857.86 107.65Z"/><path d="M1886.6 96.9L1895.1 107.9L1886.6 118.9L1878.1 107.9Z"/><path d="M1906.84 97.15L1915.34 108.15L1906.84 119.15L1898.34 108.15Z"/><path d="M1927.09 97.4L1935.59 108.4L1927.09 119.4L1918.59 108.4Z"/></g>
</g>
<g stroke="#00ff00" class="s">
<polyline class="ln" points="1117.44,125.5 1137.68,127.2 1157.92,128.5 1178.16,129.6 1198.41,131.2 1218.65,132.2 1238.89,133.3 1259.13,133.8 1279.37,134.4 1299.61,134.9 1319.85,135.4 1340.09,139.1 1360.33,139.9 1380.58,140.5 1400.82,141.6 1421.06,142.4 1441.3,143 1461.54,152.4 1481.78,155.2 1502.02,156.3 1522.26,157.3 1542.5,157.6 1562.75,158.1 1582.99,158.7 1603.23,159.1 1623.47,159.4 1643.71,159.8 1663.95,160.3 1684.19,160.8 1704.43,161 1724.67,161.2 1744.92,161.4 1765.16,161.58 1785.4,161.76 1805.64,161.93 1825.88,162.11 1846.12,162.29 1866.36,162.47 1886.6,162.64 1906.84,162.82 1927.09,163"/>
<g class="mk"><circle cx="1117.44" cy="125.5" r="8.6"/><circle cx="1137.68" cy="127.2" r="8.6"/><circle cx="1157.92" cy="128.5" r="8.6"/><circle cx="1178.16" cy="129.6" r="8.6"/><circle cx="1198.41" cy="131.2" r="8.6"/><circle cx="1218.65" cy="132.2" r="8.6"/><circle cx="1238.89" cy="133.3" r="8.6"/><circle cx="1259.13" cy="133.8" r="8.6"/><circle cx="1279.37" cy="134.4" r="8.6"/><circle cx="1299.61" cy="134.9" r="8.6"/><circle cx="1319.85" cy="135.4" r="8.6"/><circle cx="1340.09" cy="139.1" r="8.6"/><circle cx="1360.33" cy="139.9" r="8.6"/><circle cx="1380.58" cy="140.5" r="8.6"/><circle cx="1400.82" cy="141.6" r="8.6"/><circle cx="1421.06" cy="142.4" r="8.6"/><circle cx="1441.3" cy="143" r="8.6"/><circle cx="1461.54" cy="152.4" r="8.6"/><circle cx="1481.78" cy="155.2" r="8.6"/><circle cx="1502.02" cy="156.3" r="8.6"/><circle cx="1522.26" cy="157.3" r="8.6"/><circle cx="1542.5" cy="157.6" r="8.6"/><circle cx="1562.75" cy="158.1" r="8.6"/><circle cx="1582.99" cy="158.7" r="8.6"/><circle cx="1603.23" cy="159.1" r="8.6"/><circle cx="1623.47" cy="159.4" r="8.6"/><circle cx="1643.71" cy="159.8" r="8.6"/><circle cx="1663.95" cy="160.3" r="8.6"/><circle cx="1684.19" cy="160.8" r="8.6"/><circle cx="1704.43" cy="161" r="8.6"/><circle cx="1724.67" cy="161.2" r="8.6"/><circle cx="1744.92" cy="161.4" r="8.6"/><circle cx="1765.16" cy="161.58" r="8.6"/><circle cx="1785.4" cy="161.76" r="8.6"/><circle cx="1805.64" cy="161.93" r="8.6"/><circle cx="1825.88" cy="162.11" r="8.6"/><circle cx="1846.12" cy="162.29" r="8.6"/><circle cx="1866.36" cy="162.47" r="8.6"/><circle cx="1886.6" cy="162.64" r="8.6"/><circle cx="1906.84" cy="162.82" r="8.6"/><circle cx="1927.09" cy="163" r="8.6"/></g>
</g>
<g stroke="#0000ff" class="s">
<polyline class="ln" points="1117.44,315.6 1137.68,316.2 1157.92,316.9 1178.16,317.4 1198.41,317.9 1218.65,318.4 1238.89,318.8 1259.13,319.3 1279.37,319.6 1299.61,320.9 1319.85,321.8 1340.09,322.4 1360.33,322.9 1380.58,323.3 1400.82,323.9 1421.06,324.2 1441.3,324.7 1461.54,325.1 1481.78,325.4 1502.02,326 1522.26,326.5 1542.5,326.8 1562.75,327.1 1582.99,327.2 1603.23,327.4 1623.47,330.4 1643.71,330.6 1663.95,339.8 1684.19,341.4 1704.43,349.2 1724.67,351.2 1744.92,351.4 1765.16,351.5 1785.4,351.8 1805.64,352 1825.88,352.2 1846.12,354.4 1866.36,355.3 1886.6,356.2 1906.84,356.5 1927.09,356.7"/>
<g class="mk"><path d="M1109.11 315.6H1125.78M1117.44 307.27V323.94M1111.55 309.71L1123.33 321.49M1111.55 321.49L1123.33 309.71"/><path d="M1129.35 316.2H1146.02M1137.68 307.87V324.53M1131.79 310.31L1143.58 322.09M1131.79 322.09L1143.58 310.31"/><path d="M1149.59 316.9H1166.26M1157.92 308.56V325.23M1152.03 311.01L1163.82 322.79M1152.03 322.79L1163.82 311.01"/><path d="M1169.83 317.4H1186.5M1178.16 309.06V325.73M1172.27 311.51L1184.06 323.29M1172.27 323.29L1184.06 311.51"/><path d="M1190.07 317.9H1206.74M1198.41 309.56V326.23M1192.51 312.01L1204.3 323.79M1192.51 323.79L1204.3 312.01"/><path d="M1210.31 318.4H1226.98M1218.65 310.06V326.73M1212.75 312.51L1224.54 324.29M1212.75 324.29L1224.54 312.51"/><path d="M1230.55 318.8H1247.22M1238.89 310.47V327.13M1232.99 312.91L1244.78 324.69M1232.99 324.69L1244.78 312.91"/><path d="M1250.79 319.3H1267.46M1259.13 310.97V327.63M1253.24 313.41L1265.02 325.19M1253.24 325.19L1265.02 313.41"/><path d="M1271.04 319.6H1287.71M1279.37 311.27V327.94M1273.48 313.71L1285.26 325.49M1273.48 325.49L1285.26 313.71"/><path d="M1291.28 320.9H1307.95M1299.61 312.56V329.23M1293.72 315.01L1305.5 326.79M1293.72 326.79L1305.5 315.01"/><path d="M1311.52 321.8H1328.19M1319.85 313.47V330.13M1313.96 315.91L1325.75 327.69M1313.96 327.69L1325.75 315.91"/><path d="M1331.76 322.4H1348.43M1340.09 314.06V330.73M1334.2 316.51L1345.99 328.29M1334.2 328.29L1345.99 316.51"/><path d="M1352 322.9H1368.67M1360.33 314.56V331.23M1354.44 317.01L1366.23 328.79M1354.44 328.79L1366.23 317.01"/><path d="M1372.24 323.3H1388.91M1380.58 314.97V331.63M1374.68 317.41L1386.47 329.19M1374.68 329.19L1386.47 317.41"/><path d="M1392.48 323.9H1409.15M1400.82 315.56V332.23M1394.92 318.01L1406.71 329.79M1394.92 329.79L1406.71 318.01"/><path d="M1412.72 324.2H1429.39M1421.06 315.87V332.53M1415.16 318.31L1426.95 330.09M1415.16 330.09L1426.95 318.31"/><path d="M1432.96 324.7H1449.63M1441.3 316.37V333.03M1435.41 318.81L1447.19 330.59M1435.41 330.59L1447.19 318.81"/><path d="M1453.2 325.1H1469.88M1461.54 316.77V333.44M1455.65 319.21L1467.43 330.99M1455.65 330.99L1467.43 319.21"/><path d="M1473.45 325.4H1490.12M1481.78 317.06V333.73M1475.89 319.51L1487.67 331.29M1475.89 331.29L1487.67 319.51"/><path d="M1493.69 326H1510.36M1502.02 317.67V334.33M1496.13 320.11L1507.92 331.89M1496.13 331.89L1507.92 320.11"/><path d="M1513.93 326.5H1530.6M1522.26 318.17V334.83M1516.37 320.61L1528.16 332.39M1516.37 332.39L1528.16 320.61"/><path d="M1534.17 326.8H1550.84M1542.5 318.47V335.13M1536.61 320.91L1548.4 332.69M1536.61 332.69L1548.4 320.91"/><path d="M1554.41 327.1H1571.08M1562.75 318.77V335.44M1556.85 321.21L1568.64 332.99M1556.85 332.99L1568.64 321.21"/><path d="M1574.65 327.2H1591.32M1582.99 318.87V335.53M1577.09 321.31L1588.88 333.09M1577.09 333.09L1588.88 321.31"/><path d="M1594.89 327.4H1611.56M1603.23 319.06V335.73M1597.33 321.51L1609.12 333.29M1597.33 333.29L1609.12 321.51"/><path d="M1615.13 330.4H1631.8M1623.47 322.06V338.73M1617.58 324.51L1629.36 336.29M1617.58 336.29L1629.36 324.51"/><path d="M1635.38 330.6H1652.05M1643.71 322.27V338.94M1637.82 324.71L1649.6 336.49M1637.82 336.49L1649.6 324.71"/><path d="M1655.62 339.8H1672.29M1663.95 331.47V348.13M1658.06 333.91L1669.84 345.69M1658.06 345.69L1669.84 333.91"/><path d="M1675.86 341.4H1692.53M1684.19 333.06V349.73M1678.3 335.51L1690.09 347.29M1678.3 347.29L1690.09 335.51"/><path d="M1696.1 349.2H1712.77M1704.43 340.87V357.53M1698.54 343.31L1710.33 355.09M1698.54 355.09L1710.33 343.31"/><path d="M1716.34 351.2H1733.01M1724.67 342.87V359.53M1718.78 345.31L1730.57 357.09M1718.78 357.09L1730.57 345.31"/><path d="M1736.58 351.4H1753.25M1744.92 343.06V359.73M1739.02 345.51L1750.81 357.29M1739.02 357.29L1750.81 345.51"/><path d="M1756.82 351.5H1773.49M1765.16 343.17V359.83M1759.26 345.61L1771.05 357.39M1759.26 357.39L1771.05 345.61"/><path d="M1777.06 351.8H1793.73M1785.4 343.47V360.13M1779.5 345.91L1791.29 357.69M1779.5 357.69L1791.29 345.91"/><path d="M1797.3 352H1813.97M1805.64 343.67V360.33M1799.75 346.11L1811.53 357.89M1799.75 357.89L1811.53 346.11"/><path d="M1817.55 352.2H1834.22M1825.88 343.87V360.53M1819.99 346.31L1831.77 358.09M1819.99 358.09L1831.77 346.31"/><path d="M1837.79 354.4H1854.46M1846.12 346.06V362.73M1840.23 348.51L1852.01 360.29M1840.23 360.29L1852.01 348.51"/><path d="M1858.03 355.3H1874.7M1866.36 346.97V363.63M1860.47 349.41L1872.26 361.19M1860.47 361.19L1872.26 349.41"/><path d="M1878.27 356.2H1894.94M1886.6 347.87V364.53M1880.71 350.31L1892.5 362.09M1880.71 362.09L1892.5 350.31"/><path d="M1898.51 356.5H1915.18M1906.84 348.17V364.83M1900.95 350.61L1912.74 362.39M1900.95 362.39L1912.74 350.61"/><path d="M1918.75 356.7H1935.42M1927.09 348.37V365.03M1921.19 350.81L1932.98 362.59M1921.19 362.59L1932.98 350.81"/></g>
</g>
<g stroke="#e6000a" class="s">
<polyline class="ln" points="1117.44,141.2 1137.68,142 1157.92,143.4 1178.16,144.8 1198.41,149.6 1218.65,149.9 1238.89,150.5 1259.13,150.9 1279.37,151.3 1299.61,151.6 1319.85,152.5 1340.09,154.9 1360.33,155.5 1380.58,156 1400.82,160.5 1421.06,161.4 1441.3,163.5 1461.54,164.5 1481.78,165.1 1502.02,165.3 1522.26,174.1 1542.5,174.5 1562.75,176 1582.99,177.2 1603.23,179.4 1623.47,180.3 1643.71,180.9 1663.95,181.4 1684.19,182.8 1704.43,183 1724.67,183.1 1744.92,189 1765.16,189.33 1785.4,189.67 1805.64,190 1825.88,190.33 1846.12,190.67 1866.36,191 1886.6,191.33 1906.84,191.67 1927.09,192" stroke-dasharray="11 10.5"/>
<g class="mk"><path d="M1109.11 141.2H1125.78M1117.44 132.86V149.53"/><path d="M1129.35 142H1146.02M1137.68 133.66V150.34"/><path d="M1149.59 143.4H1166.26M1157.92 135.06V151.74"/><path d="M1169.83 144.8H1186.5M1178.16 136.47V153.14"/><path d="M1190.07 149.6H1206.74M1198.41 141.26V157.94"/><path d="M1210.31 149.9H1226.98M1218.65 141.56V158.24"/><path d="M1230.55 150.5H1247.22M1238.89 142.16V158.84"/><path d="M1250.79 150.9H1267.46M1259.13 142.56V159.24"/><path d="M1271.04 151.3H1287.71M1279.37 142.97V159.64"/><path d="M1291.28 151.6H1307.95M1299.61 143.26V159.94"/><path d="M1311.52 152.5H1328.19M1319.85 144.16V160.84"/><path d="M1331.76 154.9H1348.43M1340.09 146.56V163.24"/><path d="M1352 155.5H1368.67M1360.33 147.16V163.84"/><path d="M1372.24 156H1388.91M1380.58 147.66V164.34"/><path d="M1392.48 160.5H1409.15M1400.82 152.16V168.84"/><path d="M1412.72 161.4H1429.39M1421.06 153.06V169.74"/><path d="M1432.96 163.5H1449.63M1441.3 155.16V171.84"/><path d="M1453.2 164.5H1469.88M1461.54 156.16V172.84"/><path d="M1473.45 165.1H1490.12M1481.78 156.76V173.44"/><path d="M1493.69 165.3H1510.36M1502.02 156.97V173.64"/><path d="M1513.93 174.1H1530.6M1522.26 165.76V182.44"/><path d="M1534.17 174.5H1550.84M1542.5 166.16V182.84"/><path d="M1554.41 176H1571.08M1562.75 167.66V184.34"/><path d="M1574.65 177.2H1591.32M1582.99 168.86V185.53"/><path d="M1594.89 179.4H1611.56M1603.23 171.06V187.74"/><path d="M1615.13 180.3H1631.8M1623.47 171.97V188.64"/><path d="M1635.38 180.9H1652.05M1643.71 172.56V189.24"/><path d="M1655.62 181.4H1672.29M1663.95 173.06V189.74"/><path d="M1675.86 182.8H1692.53M1684.19 174.47V191.14"/><path d="M1696.1 183H1712.77M1704.43 174.66V191.34"/><path d="M1716.34 183.1H1733.01M1724.67 174.76V191.44"/><path d="M1736.58 189H1753.25M1744.92 180.66V197.34"/><path d="M1756.82 189.33H1773.49M1765.16 181V197.67"/><path d="M1777.06 189.67H1793.73M1785.4 181.33V198"/><path d="M1797.3 190H1813.97M1805.64 181.66V198.34"/><path d="M1817.55 190.33H1834.22M1825.88 182V198.67"/><path d="M1837.79 190.67H1854.46M1846.12 182.33V199"/><path d="M1858.03 191H1874.7M1866.36 182.66V199.34"/><path d="M1878.27 191.33H1894.94M1886.6 183V199.67"/><path d="M1898.51 191.67H1915.18M1906.84 183.33V200"/><path d="M1918.75 192H1935.42M1927.09 183.66V200.34"/></g>
</g>
<g stroke="#00f2f2" class="s">
<polyline class="ln" points="1117.44,149.2 1137.68,149.7 1157.92,150.6 1178.16,151.3 1198.41,152.1 1218.65,152.6 1238.89,153.1 1259.13,154.5 1279.37,154.8 1299.61,155 1319.85,155.4 1340.09,157.7 1360.33,158.4 1380.58,158.7 1400.82,159.6 1421.06,159.8 1441.3,160 1461.54,160.6 1481.78,160.8 1502.02,161 1522.26,163 1542.5,165 1562.75,165.1 1582.99,165.2 1603.23,165.3 1623.47,165.5 1643.71,165.6 1663.95,165.7 1684.19,165.8 1704.43,165.86 1724.67,165.92 1744.92,165.98 1765.16,166.03 1785.4,166.09 1805.64,166.15 1825.88,166.21 1846.12,166.27 1866.36,166.32 1886.6,166.38 1906.84,166.44 1927.09,166.5" stroke-dasharray="11 10.5"/>
<g class="mk"><path d="M1107.63 143.53L1127.26 143.53L1117.44 160.53Z"/><path d="M1127.87 144.03L1147.5 144.03L1137.68 161.03Z"/><path d="M1148.11 144.93L1167.74 144.93L1157.92 161.93Z"/><path d="M1168.35 145.63L1187.98 145.63L1178.16 162.63Z"/><path d="M1188.59 146.43L1208.22 146.43L1198.41 163.43Z"/><path d="M1208.83 146.93L1228.46 146.93L1218.65 163.93Z"/><path d="M1229.07 147.43L1248.7 147.43L1238.89 164.43Z"/><path d="M1249.31 148.83L1268.94 148.83L1259.13 165.83Z"/><path d="M1269.56 149.13L1289.18 149.13L1279.37 166.13Z"/><path d="M1289.8 149.33L1309.43 149.33L1299.61 166.33Z"/><path d="M1310.04 149.73L1329.67 149.73L1319.85 166.73Z"/><path d="M1330.28 152.03L1349.91 152.03L1340.09 169.03Z"/><path d="M1350.52 152.73L1370.15 152.73L1360.33 169.73Z"/><path d="M1370.76 153.03L1390.39 153.03L1380.58 170.03Z"/><path d="M1391 153.93L1410.63 153.93L1400.82 170.93Z"/><path d="M1411.24 154.13L1430.87 154.13L1421.06 171.13Z"/><path d="M1431.48 154.33L1451.11 154.33L1441.3 171.33Z"/><path d="M1451.73 154.93L1471.35 154.93L1461.54 171.93Z"/><path d="M1471.97 155.13L1491.6 155.13L1481.78 172.13Z"/><path d="M1492.21 155.33L1511.84 155.33L1502.02 172.33Z"/><path d="M1512.45 157.33L1532.08 157.33L1522.26 174.33Z"/><path d="M1532.69 159.33L1552.32 159.33L1542.5 176.33Z"/><path d="M1552.93 159.43L1572.56 159.43L1562.75 176.43Z"/><path d="M1573.17 159.53L1592.8 159.53L1582.99 176.53Z"/><path d="M1593.41 159.63L1613.04 159.63L1603.23 176.63Z"/><path d="M1613.65 159.83L1633.28 159.83L1623.47 176.83Z"/><path d="M1633.9 159.93L1653.52 159.93L1643.71 176.93Z"/><path d="M1654.14 160.03L1673.77 160.03L1663.95 177.03Z"/><path d="M1674.38 160.13L1694.01 160.13L1684.19 177.13Z"/><path d="M1694.62 160.19L1714.25 160.19L1704.43 177.19Z"/><path d="M1714.86 160.25L1734.49 160.25L1724.67 177.25Z"/><path d="M1735.1 160.31L1754.73 160.31L1744.92 177.31Z"/><path d="M1755.34 160.37L1774.97 160.37L1765.16 177.37Z"/><path d="M1775.58 160.43L1795.21 160.43L1785.4 177.43Z"/><path d="M1795.82 160.48L1815.45 160.48L1805.64 177.48Z"/><path d="M1816.07 160.54L1835.69 160.54L1825.88 177.54Z"/><path d="M1836.31 160.6L1855.94 160.6L1846.12 177.6Z"/><path d="M1856.55 160.66L1876.18 160.66L1866.36 177.66Z"/><path d="M1876.79 160.72L1896.42 160.72L1886.6 177.72Z"/><path d="M1897.03 160.78L1916.66 160.78L1906.84 177.78Z"/><path d="M1917.27 160.83L1936.9 160.83L1927.09 177.83Z"/></g>
</g>
</g>
<g transform="translate(1066.85 0)">
<rect class="ax" fill="#fff" x="675.5" y="61.2" width="243.5" height="214.1"/>
<g stroke="#ffff00" class="s"><path class="ln" style="stroke-linecap:butt" d="M684 82H768.1"/><g class="mk"><path d="M720.33 72.19L737.33 82L720.33 91.81Z"/></g></g>
<text class="lg" transform="translate(774.8 91.4) rotate(0.05)">HCOA</text>
<g stroke="#000000" class="s"><path class="ln" style="stroke-linecap:butt" d="M684 116.1H768.1"/><g class="mk"><path d="M726 105.5L734.5 116.5L726 127.5L717.5 116.5Z"/></g></g>
<text class="lg" transform="translate(774.8 125.5) rotate(0.05)">BBPSO</text>
<g stroke="#00ff00" class="s"><path class="ln" style="stroke-linecap:butt" d="M684 150.8H768.1"/><g class="mk"><circle cx="726" cy="150.8" r="8.6"/></g></g>
<text class="lg" transform="translate(774.8 160.2) rotate(0.05)">PBBPSO</text>
<g stroke="#0000ff" class="s"><path class="ln" style="stroke-linecap:butt" d="M684 185.3H768.1"/><g class="mk"><path d="M717.66 185.3H734.34M726 176.97V193.64M720.11 179.41L731.89 191.19M720.11 191.19L731.89 179.41"/></g></g>
<text class="lg" transform="translate(774.8 194.7) rotate(0.05)">DLSBBPSO</text>
<g stroke="#e6000a" class="s"><path class="ln" style="stroke-linecap:butt" d="M684 220.1H768.1" stroke-dasharray="11 10.5"/><g class="mk"><path d="M717.66 220.1H734.34M726 211.76V228.44"/></g></g>
<text class="lg" transform="translate(774.8 229.5) rotate(0.05)">TBBPSO</text>
<g stroke="#00f2f2" class="s"><path class="ln" style="stroke-linecap:butt" d="M684 254.1H768.1" stroke-dasharray="11 10.5"/><g class="mk"><path d="M716.19 248.43L735.81 248.43L726 265.43Z"/></g></g>
<text class="lg" transform="translate(774.8 263.5) rotate(0.05)">ETBBPSO</text>
</g>
</g>
</svg>
</body>
</html>
